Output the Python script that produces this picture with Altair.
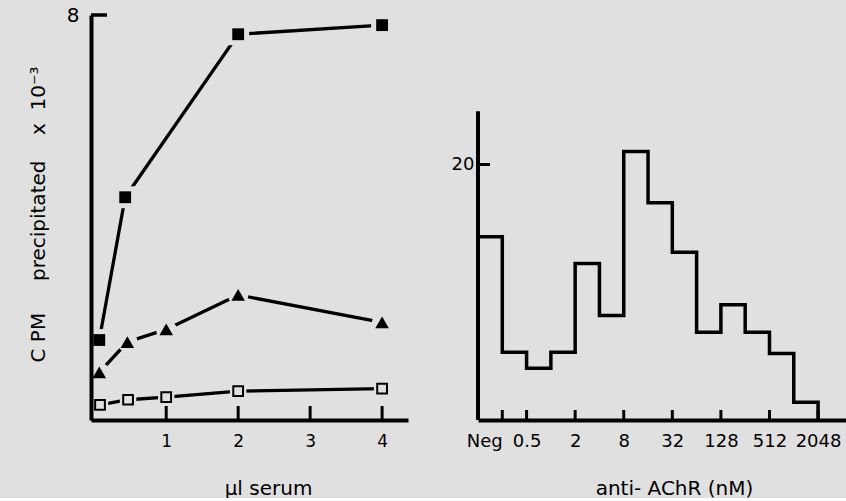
import altair as alt
import pandas as pd

BG = "#e0e0e0"
INK = "#000000"
FONT = "DejaVu Sans"
NB = "\u00a0"

# ---------------- left panel: CPM precipitated vs µl serum ----------------
filled_x = [0.07, 0.43, 2, 4]
filled_y = [1.58, 4.40, 7.62, 7.80]
tri_x = [0.07, 0.46, 1, 2, 4]
tri_y = [0.94, 1.54, 1.79, 2.47, 1.93]
open_x = [0.08, 0.47, 1, 2, 4]
open_y = [0.30, 0.40, 0.45, 0.57, 0.62]
left_xticks = [1, 2, 3, 4]
left_yticks = [8]

# ---------------- right panel: histogram of anti-AChR ----------------
bin_edges = [0.125, 0.25, 0.5, 1, 2, 4, 8, 16, 32, 64, 128, 256, 512, 1024, 2048]
bin_counts = [14.34, 5.31, 4.05, 5.31, 12.25, 8.18, 21.02, 17.0, 13.13, 6.87, 9.02, 6.87, 5.21, 1.39]
right_xticks = [0.25, 0.5, 2, 8, 32, 128, 512, 2048]
right_xlabels = ["Neg", "0.5", "2", "8", "32", "128", "512", "2048"]
right_yticks = [20]
right_ytop = 24.17

W1, H1 = 317, 405
W2, H2 = 368, 405

y_title = "C" + NB + "PM" + NB * 5 + "precipitated" + NB * 4 + "x" + NB * 2 + "10⁻³"

# ---------- left chart ----------
df_left = pd.DataFrame({
    "x": filled_x + tri_x + open_x,
    "y": filled_y + tri_y + open_y,
    "series": ["filled"] * len(filled_x) + ["tri"] * len(tri_x) + ["open"] * len(open_x),
})
xs1 = alt.Scale(domain=[-0.045, 4.36], nice=False, zero=False)
ys1 = alt.Scale(domain=[0, 8], nice=False)

xax1 = alt.Axis(values=left_xticks, ticks=False, tickSize=0, domain=True, domainColor=INK,
                domainWidth=4, labelFontSize=17, labelPadding=13, labelColor=INK, labelFont=FONT,
                format="d", grid=False, title="µl serum", titleFont=FONT, titleFontSize=20,
                titleFontWeight="normal", titleColor=INK, titleX=177, titleY=74,
                titleBaseline="alphabetic", titleAlign="center", zindex=1)
yax1 = alt.Axis(values=left_yticks, ticks=False, tickSize=0, domain=True, domainColor=INK,
                domainWidth=4, labelFontSize=20, labelPadding=12, labelColor=INK, labelFont=FONT,
                grid=False, title=y_title, titleFont=FONT,
                titleFontSize=20, titleFontWeight="normal", titleColor=INK, titleAngle=270,
                titleX=-47, titleY=199, titleBaseline="alphabetic", titleAlign="center", zindex=1)

base1 = alt.Chart(df_left).encode(
    x=alt.X("x:Q", scale=xs1, axis=xax1),
    y=alt.Y("y:Q", scale=ys1, axis=yax1),
)
lines1 = base1.mark_line(color=INK, strokeWidth=3.3).encode(detail="series:N")

def only(s):
    return alt.datum.series == s

mask_f = base1.transform_filter(only("filled")).mark_point(shape="square", filled=True, size=480, color=BG, opacity=1)
mask_t = base1.transform_filter(only("tri")).mark_point(shape="circle", filled=True, size=420, color=BG, opacity=1)
mask_o = base1.transform_filter(only("open")).mark_point(shape="square", filled=True, size=270, color=BG, opacity=1)
pts_f = base1.transform_filter(only("filled")).mark_point(shape="square", filled=True, size=140, color=INK, opacity=1)
pts_t = base1.transform_filter(only("tri")).mark_point(shape="triangle-up", filled=True, size=185, color=INK, opacity=1)
pts_o = base1.transform_filter(only("open")).mark_point(shape="square", size=95, fill=BG, stroke=INK,
                                                        strokeWidth=2, opacity=1, fillOpacity=1)

xt1 = alt.Chart(pd.DataFrame({"x": left_xticks})).mark_rule(color=INK, strokeWidth=3).encode(
    x=alt.X("x:Q", scale=xs1), y=alt.value(H1), y2=alt.value(H1 - 14))
yt1 = alt.Chart(pd.DataFrame({"y": left_yticks})).mark_rule(color=INK, strokeWidth=3.5).encode(
    y=alt.Y("y:Q", scale=ys1), x=alt.value(0), x2=alt.value(16))

left = alt.layer(lines1, mask_f, mask_t, mask_o, pts_f, pts_t, pts_o, xt1, yt1).properties(width=W1, height=H1)

# ---------- right chart ----------
df_hist = pd.DataFrame({"x": bin_edges, "y": bin_counts + [0]})
xs2 = alt.Scale(type="log", base=2, domain=[0.125, 4546], nice=False)
ys2 = alt.Scale(domain=[0, 31.7], nice=False)

label_expr = "''"
for v, lab in reversed(list(zip(right_xticks, right_xlabels))):
    label_expr = f"datum.value == {v} ? '{lab}' : ({label_expr})"

xax2 = alt.Axis(values=right_xticks, ticks=False, tickSize=0, domain=True, domainColor=INK,
                domainWidth=4, labelFontSize=18, labelPadding=12, labelColor=INK, labelFont=FONT,
                labelExpr=label_expr,
                labelAlign={"condition": {"test": "datum.value == 0.25", "value": "right"}, "value": "center"},
                grid=False, title="anti- AChR (nM)", titleFont=FONT, titleFontSize=20,
                titleFontWeight="normal", titleColor=INK, titleX=196, titleY=74,
                titleBaseline="alphabetic", titleAlign="center", zindex=1)
yax2 = alt.Axis(values=right_yticks, ticks=False, tickSize=0, domain=False, labelFontSize=18,
                labelPadding=4, labelColor=INK, labelFont=FONT, grid=False, title=None)

hist = alt.Chart(df_hist).mark_line(interpolate="step-after", color=INK, strokeWidth=3.5).encode(
    x=alt.X("x:Q", scale=xs2, axis=xax2),
    y=alt.Y("y:Q", scale=ys2, axis=yax2),
)
yline2 = alt.Chart(pd.DataFrame({"y": [0], "y2": [right_ytop]})).mark_rule(color=INK, strokeWidth=4).encode(
    x=alt.value(0), y=alt.Y("y:Q", scale=ys2), y2="y2:Q")
xt2 = alt.Chart(pd.DataFrame({"x": right_xticks})).mark_rule(color=INK, strokeWidth=3).encode(
    x=alt.X("x:Q", scale=xs2), y=alt.value(H2), y2=alt.value(H2 - 10))
yt2 = alt.Chart(pd.DataFrame({"y": right_yticks})).mark_rule(color=INK, strokeWidth=3).encode(
    y=alt.Y("y:Q", scale=ys2), x=alt.value(0), x2=alt.value(12))

right = alt.layer(hist, yline2, xt2, yt2).properties(width=W2, height=H2)

chart = alt.hconcat(left, right, spacing=43).properties(
    background=BG,
    padding={"left": 27, "top": 5, "right": 0, "bottom": 0},
).configure_view(stroke=None)

chart.save("out.html", embed_options={"renderer": "svg", "actions": False})
